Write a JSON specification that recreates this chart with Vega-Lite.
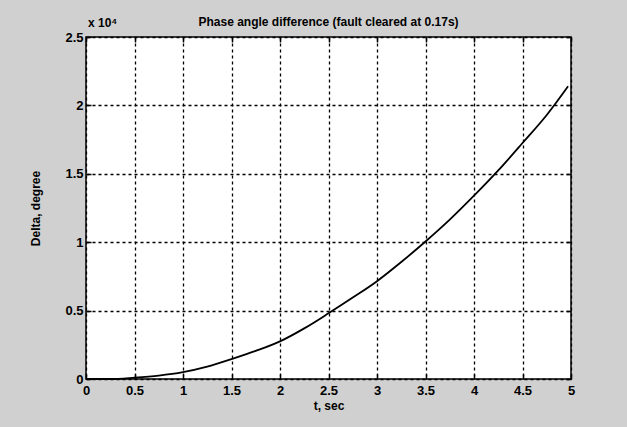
{
  "$schema": "https://vega.github.io/schema/vega-lite/v6.json",
  "width": 485,
  "height": 342,
  "autosize": {"type": "none"},
  "padding": {"left": 86, "top": 37, "right": 56, "bottom": 48},
  "background": "#d0d0d0",
  "config": {
    "font": "Liberation Sans",
    "view": {"fill": "white", "stroke": "black", "strokeWidth": 1.5},
    "axis": {
      "labelFont": "Liberation Sans",
      "labelFontSize": 13,
      "labelFontWeight": "bold",
      "labelColor": "black",
      "titleFont": "Liberation Sans",
      "titleFontSize": 12,
      "titleFontWeight": "bold",
      "titleColor": "black",
      "domain": false,
      "tickColor": "black",
      "tickSize": -5,
      "tickWidth": 1.5,
      "labelPadding": 10,
      "gridColor": "black",
      "gridDash": [3, 3],
      "gridWidth": 1.3,
      "gridOpacity": 1
    }
  },
  "title": {
    "text": "Phase angle difference (fault cleared at 0.17s)",
    "font": "Liberation Sans",
    "fontSize": 12,
    "fontWeight": "bold",
    "color": "black",
    "offset": 0,
    "dy": 12,
    "anchor": "middle"
  },
  "data": {
    "values": [
      {"t": 0, "delta": 0},
      {"t": 0.25, "delta": 0},
      {"t": 0.5, "delta": 100},
      {"t": 0.75, "delta": 250},
      {"t": 1, "delta": 500},
      {"t": 1.25, "delta": 900},
      {"t": 1.5, "delta": 1450},
      {"t": 1.75, "delta": 2050},
      {"t": 2, "delta": 2750},
      {"t": 2.25, "delta": 3700},
      {"t": 2.5, "delta": 4800},
      {"t": 2.75, "delta": 5950},
      {"t": 3, "delta": 7150},
      {"t": 3.25, "delta": 8550},
      {"t": 3.5, "delta": 10050},
      {"t": 3.75, "delta": 11650},
      {"t": 4, "delta": 13400},
      {"t": 4.25, "delta": 15250},
      {"t": 4.5, "delta": 17250},
      {"t": 4.75, "delta": 19300},
      {"t": 4.97, "delta": 21400}
    ]
  },
  "layer": [
    {
      "mark": {"type": "line", "color": "black", "strokeWidth": 1.8, "interpolate": "monotone"},
      "encoding": {
        "x": {
          "field": "t", "type": "quantitative",
          "scale": {"domain": [0, 5], "nice": false},
          "axis": {"values": [0, 0.5, 1, 1.5, 2, 2.5, 3, 3.5, 4, 4.5, 5], "format": "~g", "title": "t, sec", "titlePadding": 3, "labelFlush": false}
        },
        "y": {
          "field": "delta", "type": "quantitative",
          "scale": {"domain": [0, 25000], "nice": false},
          "axis": {
            "values": [0, 5000, 10000, 15000, 20000, 25000],
            "labelExpr": "toString(datum.value / 10000)",
            "title": "Delta, degree",
            "titlePadding": 22,
            "labelPadding": 8,
            "labelFlush": false
          }
        }
      }
    },
    {
      "mark": {"type": "line", "opacity": 0},
      "encoding": {
        "x": {
          "field": "t", "type": "quantitative",
          "scale": {"domain": [0, 5], "nice": false},
          "axis": {"orient": "top", "values": [0, 0.5, 1, 1.5, 2, 2.5, 3, 3.5, 4, 4.5, 5], "labels": false, "grid": false, "title": null}
        },
        "y": {
          "field": "delta", "type": "quantitative",
          "scale": {"domain": [0, 25000], "nice": false},
          "axis": {"orient": "right", "values": [0, 5000, 10000, 15000, 20000, 25000], "labels": false, "grid": false, "title": null}
        }
      }
    },
    {
      "data": {"values": [{"t": 0, "delta": 25000, "label": "x 10⁴"}]},
      "mark": {"type": "text", "align": "left", "baseline": "bottom", "dx": 2, "dy": -7, "fontSize": 12, "fontWeight": "bold", "color": "black"},
      "encoding": {
        "x": {"field": "t", "type": "quantitative", "scale": {"domain": [0, 5], "nice": false}, "axis": null},
        "y": {"field": "delta", "type": "quantitative", "scale": {"domain": [0, 25000], "nice": false}, "axis": null},
        "text": {"field": "label"}
      }
    }
  ],
  "resolve": {"axis": {"x": "independent", "y": "independent"}}
}
